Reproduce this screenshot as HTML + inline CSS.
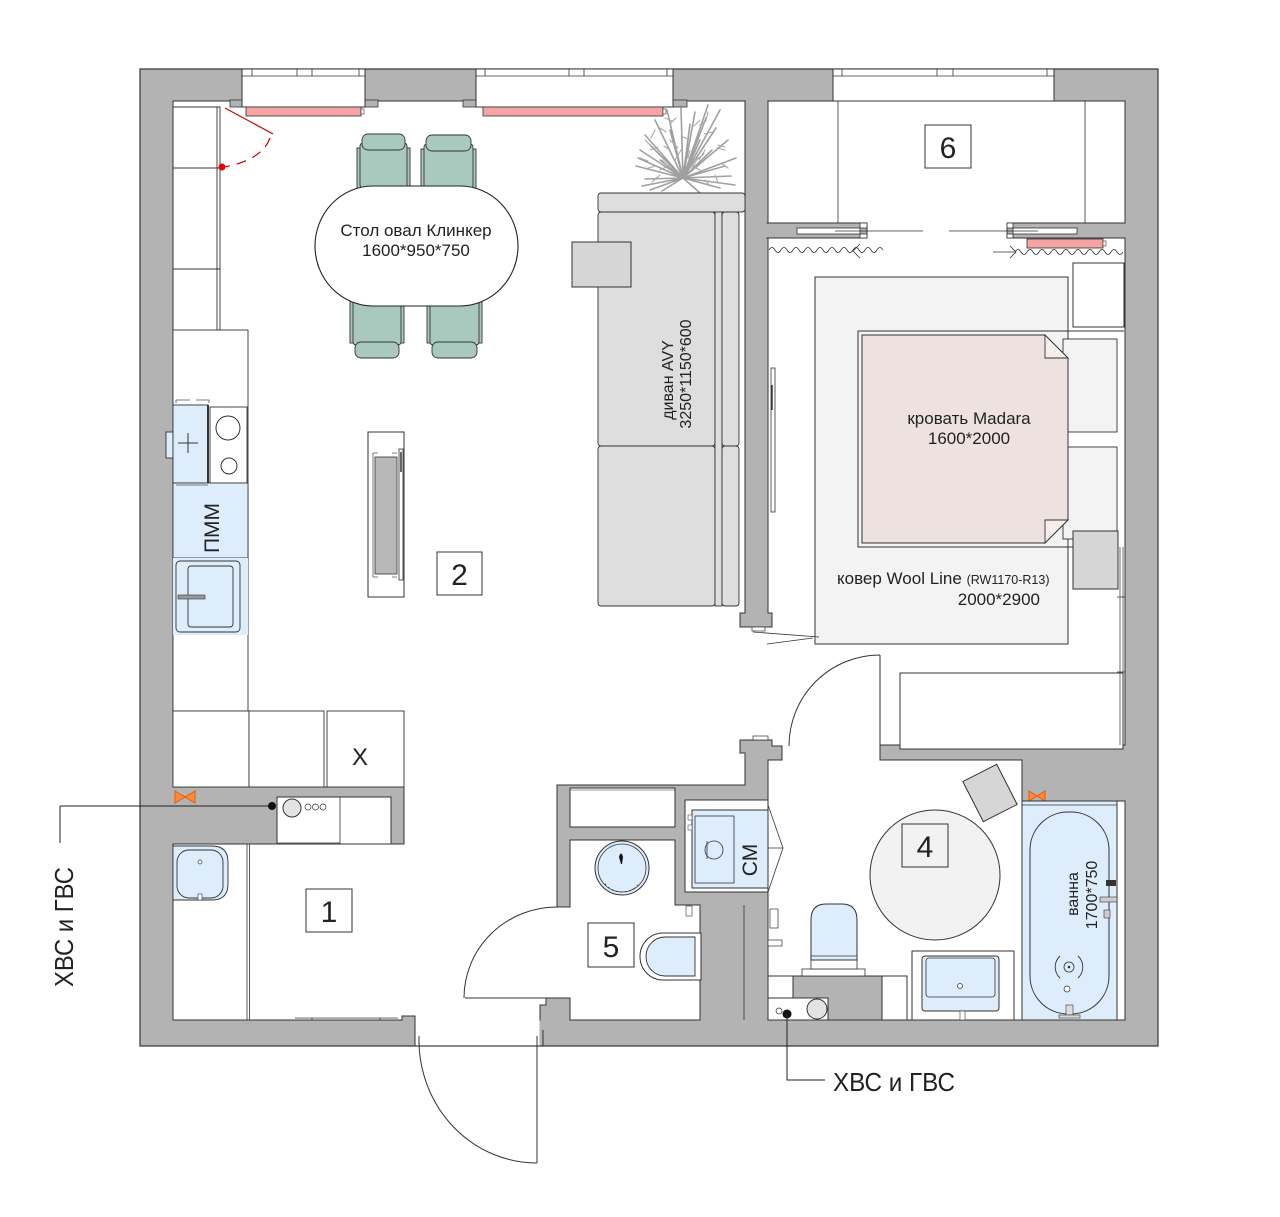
<!DOCTYPE html>
<html><head><meta charset="utf-8"><style>html,body{margin:0;padding:0;background:#fff}svg{display:block}</style></head>
<body>
<svg width="1280" height="1217" viewBox="0 0 1280 1217" xmlns="http://www.w3.org/2000/svg" font-family="Liberation Sans, sans-serif">
<rect width="1280" height="1217" fill="#fff"/>
<!-- outer walls -->
<rect x="140" y="69" width="1018" height="977" fill="#b3b3b3" stroke="#333" stroke-width="1.2"/>
<rect x="173" y="101" width="952" height="919" fill="#fff" stroke="#333" stroke-width="1"/>
<!-- window stubs -->
<g fill="#b3b3b3" stroke="#333" stroke-width="0.8">
<rect x="230" y="100" width="12" height="7"/><rect x="365" y="100" width="13" height="7"/>
<rect x="463" y="100" width="13" height="7"/><rect x="673" y="100" width="14" height="7"/>
</g>
<g fill="#fff" stroke="#333" stroke-width="1">
<rect x="242" y="69" width="123" height="38"/>
<rect x="476" y="69" width="197" height="38"/>
<rect x="833" y="69" width="221" height="32"/>
</g>
<g stroke="#333" stroke-width="0.8" fill="none">
<path d="M242,76H365M476,76H673M833,76H1054"/>
<path d="M252,69V76M297,69V76M312,69V76M359,69V76M485,69V76M569,69V76M584,69V76M667,69V76M842,69V76M937,69V76M953,69V76M1047,69V76"/>
</g>
<!-- radiators -->
<g fill="#f5a3a3" stroke="#333" stroke-width="0.8">
<rect x="246" y="107" width="115" height="9"/><rect x="483" y="107" width="180" height="9"/>
<rect x="1027" y="239" width="76" height="9"/>
</g>
<g fill="#fff" stroke="#333" stroke-width="0.6">
<rect x="361" y="109" width="3" height="5"/><rect x="663" y="109" width="3" height="5"/><rect x="1103" y="241" width="3" height="5"/>
</g>

<!-- interior walls -->
<g fill="#b3b3b3" stroke="#333" stroke-width="1">
<polygon points="745,101 768,101 768,613 772,613 772,627 740,627 740,613 745,613"/>
<rect x="767" y="223" width="100" height="15"/>
<rect x="1007" y="223" width="118" height="15"/>
<polygon points="880,745 1125,745 1125,801 1022,801 1022,760 880,760"/>
<polygon points="740,740 772,740 772,746 782,746 782,760 768,760 768,1020 700,1020 700,905 675,905 675,840 570,840 570,907 557,907 557,785 745,785 745,753 740,753"/>
<rect x="173" y="787" width="231" height="57"/>
<polygon points="540,1020 540,1005 546,1005 546,998 570,998 570,1020"/>
<polygon points="402,1020 402,1016 415,1016 415,1020"/>
</g>
<!-- patches to hide junction lines -->
<g fill="#b3b3b3">
<rect x="745.6" y="98" width="21.8" height="5"/>
<rect x="764" y="223.6" width="8" height="13.8"/>
<rect x="1121" y="223.6" width="8" height="13.8"/>
<rect x="1121" y="745.6" width="8" height="54.8"/>
<rect x="700.6" y="1016" width="66.8" height="8"/>
<rect x="169" y="787.6" width="8" height="55.8"/>
<rect x="540.6" y="1016" width="28.8" height="8"/>
<rect x="402.6" y="1016.6" width="12" height="7"/>
</g>
<path d="M744,905V1020" stroke="#333" stroke-width="0.8"/>
<!-- entry opening -->
<rect x="415.5" y="1019" width="124" height="26.4" fill="#fff"/>
<g stroke="#333" stroke-width="1" fill="none">
<path d="M415,1016V1046M419,1036V1046M543,1030V1046M415,1046H543"/>
<path d="M537,1036V1163"/>
<path d="M419,1040A118,123 0 0 0 537,1163"/>
</g>

<!-- closet sliding doors -->
<g fill="#fff" stroke="#333" stroke-width="0.8">
<rect x="797" y="228" width="63" height="6"/><rect x="860" y="223" width="7" height="5"/><rect x="860" y="234" width="7" height="4"/>
<rect x="1013" y="228" width="64" height="6"/><rect x="1007" y="223" width="6" height="5"/><rect x="1007" y="234" width="6" height="4"/>
</g>
<rect x="867.5" y="222" width="139" height="17" fill="#fff"/>
<g stroke="#333" stroke-width="0.8" fill="none">
<path d="M835,231H923M949,231H1038"/>
<path d="M838,101V223M1085,101V223"/>
</g>
<!-- curtains -->
<g stroke="#333" stroke-width="0.8" fill="none">
<path d="M769,250q3,-5 6,0q3,5 6,0q3,-5 6,0q3,5 6,0q3,-5 6,0q3,5 6,0q3,-5 6,0q3,5 6,0q3,-5 6,0q3,5 6,0q3,-5 6,0q3,5 6,0q3,-5 6,0q3,5 6,0q3,-5 6,0q3,5 6,0q3,-5 6,0q3,5 6,0q3,-5 6,0"/>
<path d="M860,244L853,251L860,258"/>
<path d="M993,252H1015M1010,246L1016,252L1010,258"/>
<path d="M1015,252q3,-5 6,0q3,5 6,0q3,-5 6,0q3,5 6,0q3,-5 6,0q3,5 6,0q3,-5 6,0q3,5 6,0q3,-5 6,0q3,5 6,0q3,-5 6,0q3,5 6,0q3,-5 6,0q3,5 6,0q3,-5 6,0q3,5 6,0q3,-5 6,0q3,5 6,0"/>
</g>
<rect x="925" y="125" width="46" height="43" fill="#fff" stroke="#333"/>
<text x="948" y="158" font-size="30" text-anchor="middle" fill="#222">6</text>

<!-- bedroom -->
<rect x="1073" y="263" width="51" height="64" fill="#fff" stroke="#333"/>
<rect x="815" y="277" width="253" height="367" fill="#f3f3f3" stroke="#333"/>
<path d="M1124,331H858V547H1073" fill="none" stroke="#333"/>
<g fill="#f3f3f3" stroke="#333" stroke-width="0.9">
<rect x="1063" y="339" width="54" height="93"/><rect x="1063" y="447" width="54" height="92"/>
</g>
<path d="M862,335H1045L1068,358V520L1045,543H862Z" fill="#ede2e0" stroke="#333"/>
<path d="M1045,335V358H1068Z M1045,543V520H1068Z" fill="#f5eeec" stroke="#333" stroke-width="0.9"/>
<rect x="1073" y="531" width="45" height="58" fill="#d6d6d6" stroke="#333"/>
<rect x="900" y="673" width="223" height="76" fill="#fff" stroke="#333"/>
<path d="M1120,547V745M1123,547V745M1117,597H1125M1117,672H1125" stroke="#333" stroke-width="0.7"/>
<rect x="771" y="368" width="4" height="144" fill="#fff" stroke="#333" stroke-width="0.8"/>
<path d="M772,385V410" stroke="#333" stroke-width="1.5"/>
<rect x="752" y="627" width="13" height="4" fill="#fff" stroke="#333" stroke-width="0.7"/>
<path d="M753,632L819,637M767,644L813,638" stroke="#333" stroke-width="0.8"/>
<text x="969" y="424" font-size="17" text-anchor="middle" fill="#222">кровать Madara</text>
<text x="969" y="444" font-size="17" text-anchor="middle" fill="#222">1600*2000</text>
<text x="837" y="584" font-size="17" fill="#222">ковер Wool Line <tspan font-size="12.5">(RW1170-R13)</tspan></text>
<text x="1040" y="605" font-size="17" text-anchor="end" fill="#222">2000*2900</text>
<!-- bedroom door -->
<g stroke="#333" stroke-width="1" fill="none">
<path d="M880,655V746"/>
<path d="M789,746A91,91 0 0 1 880,655"/>
</g>
<rect x="753" y="736" width="15" height="4" fill="#fff" stroke="#333" stroke-width="0.7"/>

<!-- living: left cabinets -->
<g fill="#fff" stroke="#333" stroke-width="0.9">
<path d="M173,107H220V330M173,168H220M173,269H220" fill="none"/>
<path d="M217,107V330" fill="none"/>
<rect x="173" y="330" width="75" height="381"/>
<rect x="173" y="711" width="76" height="76"/>
<rect x="249" y="711" width="75" height="76"/>
<rect x="327" y="711" width="77" height="76"/>
</g>
<path d="M225,108L273,134" stroke="#c00" stroke-width="1.2"/>
<path d="M270,138Q262,160 224,167" stroke="#c00" stroke-width="1.2" fill="none" stroke-dasharray="10 7"/>
<circle cx="222" cy="167" r="3.5" fill="#e00"/>
<!-- kitchen counter -->
<g stroke="#333" stroke-width="0.9">
<rect x="166" y="432" width="7" height="26" fill="#deedfc"/>
<rect x="173" y="405" width="35" height="78" fill="#deedfc"/>
<rect x="210" y="407" width="37" height="76" fill="#fff"/>
<rect x="173" y="483" width="75" height="75" fill="#deedfc"/>
<rect x="173" y="558" width="75" height="77" fill="#deedfc" stroke="none"/>
<rect x="176" y="561" width="64" height="71" rx="4" fill="#deedfc"/>
<rect x="188" y="566" width="45" height="61" rx="3" fill="#deedfc"/>
</g>
<path d="M176,400V403M176,400H190M196,400H209V403M176,485H208" stroke="#555" stroke-width="0.8" fill="none"/>
<path d="M208,405V483" stroke="#333" stroke-width="2"/>
<path d="M178,443H198M188,433V453" stroke="#333" stroke-width="1"/>
<circle cx="228" cy="428" r="12" fill="#fff" stroke="#333"/>
<circle cx="229" cy="466" r="8" fill="#fff" stroke="#333"/>
<rect x="178" y="595" width="27" height="4" fill="#999" stroke="#333" stroke-width="0.6"/>
<text transform="translate(219,528) rotate(-90)" font-size="21" text-anchor="middle" fill="#222">ПММ</text>
<text x="360" y="765" font-size="24" text-anchor="middle" fill="#222">X</text>

<!-- plant -->
<g stroke="#a0a0a0" stroke-width="1.6" fill="none" stroke-linecap="round">
<path d="M683,178L640,150M683,178L645,135M683,178L655,120M683,178L667,110M683,178L681,108M683,178L695,112M683,178L706,118M683,178L716,128M683,178L728,140M683,178L736,158M683,178L731,176M683,178L720,188M683,178L700,193M683,178L662,191M683,178L645,179M683,178L636,166M683,178L650,145M683,178L690,124M683,178L712,150M683,178L670,130M683,178L700,140M683,178L660,160M683,178L725,166M683,178L642,186M683,178L720,110M683,178L735,185M683,178L650,190M683,178L708,105M683,178L638,158"/>
</g>
<g stroke="#a8a8a8" stroke-width="1.1" fill="none" stroke-linecap="round">
<path d="M650,150l8,-3M660,128l6,4M700,125l6,-4M718,145l7,2M660,175l-6,5M705,180l5,6M690,140l-7,-3M670,150l-6,-4"/>
<path d="M645,140l6,6M655,130l-4,8M665,118l7,3M700,120l-6,6M712,132l-8,2M725,150l-8,-2M728,168l-7,-5M718,182l-3,-7M648,168l8,-2M652,182l6,-5M640,158l8,3M676,118l-6,6M708,112l-2,8M696,160l8,-6M668,166l-6,-6M690,150l-2,8"/>
<path d="M660,170l10,-5M700,170l-10,-6M675,160l6,-10M692,168l6,-10M670,140l8,8M705,150l-6,10"/>
</g>

<!-- chairs & table -->
<g fill="#a9c9bf" stroke="#333" stroke-width="0.9">
<rect x="357" y="148" width="4" height="40"/><rect x="406" y="148" width="4" height="40"/>
<rect x="360" y="143" width="47" height="45" rx="3"/><rect x="362" y="134" width="43" height="16" rx="6"/>
<rect x="421" y="149" width="4" height="40"/><rect x="472" y="149" width="4" height="40"/>
<rect x="424" y="144" width="49" height="45" rx="3"/><rect x="426" y="135" width="45" height="16" rx="6"/>
<rect x="350" y="300" width="4" height="43"/><rect x="400" y="300" width="4" height="43"/>
<rect x="353" y="300" width="48" height="45" rx="3"/><rect x="355" y="342" width="44" height="16" rx="6"/>
<rect x="427" y="300" width="4" height="43"/><rect x="478" y="300" width="4" height="43"/>
<rect x="430" y="300" width="49" height="45" rx="3"/><rect x="432" y="342" width="45" height="16" rx="6"/>
</g>
<rect x="315" y="186" width="203" height="120" rx="58" ry="60" fill="#fff" stroke="#222" stroke-width="1.1"/>
<text x="416" y="236" font-size="17" text-anchor="middle" fill="#222">Стол овал Клинкер</text>
<text x="416" y="256" font-size="17" text-anchor="middle" fill="#222">1600*950*750</text>

<!-- sofa -->
<g fill="#dedede" stroke="#333" stroke-width="0.9">
<rect x="598" y="193" width="147" height="19" rx="3"/>
<rect x="598" y="212" width="117" height="234" rx="3"/>
<rect x="598" y="446" width="117" height="160" rx="3"/>
<rect x="715" y="212" width="7" height="394"/>
<rect x="722" y="212" width="17" height="234" rx="3"/>
<rect x="722" y="446" width="17" height="160" rx="3"/>
</g>
<rect x="572" y="242" width="59" height="45" fill="#d6d6d6" stroke="#333"/>
<text transform="translate(673,380) rotate(-90)" font-size="16" text-anchor="middle" fill="#222">диван AVY</text>
<text transform="translate(691,374) rotate(-90)" font-size="16" text-anchor="middle" fill="#222">3250*1150*600</text>

<!-- TV unit -->
<rect x="368" y="432" width="36" height="165" fill="#fff" stroke="#333"/>
<path d="M373,453V577M373,453H378M373,577H378M397,453H392M397,577H392" stroke="#555" stroke-width="0.8" fill="none"/>
<rect x="375" y="457" width="22" height="117" fill="#b8b8b8" stroke="#333" stroke-width="0.8"/>
<rect x="399" y="449" width="4" height="131" fill="#fff" stroke="#333" stroke-width="0.8"/>
<path d="M401,452V472" stroke="#333" stroke-width="1.5"/>
<rect x="437" y="552" width="45" height="43" fill="#fff" stroke="#333"/>
<text x="459.5" y="585" font-size="30" text-anchor="middle" fill="#222">2</text>

<!-- kitchen wall cutout -->
<rect x="277" y="797" width="114" height="47" fill="#fff" stroke="#333"/>
<path d="M340,797V844M277,843H340" stroke="#333" stroke-width="0.8"/>
<circle cx="292" cy="808" r="9" fill="#e3e3e3" stroke="#333"/>
<circle cx="308" cy="807" r="3" fill="#fff" stroke="#333" stroke-width="0.7"/>
<circle cx="315.5" cy="807" r="3" fill="#fff" stroke="#333" stroke-width="0.7"/>
<circle cx="323" cy="807" r="3" fill="#fff" stroke="#333" stroke-width="0.7"/>
<path d="M60,806H272M60,806V843" stroke="#222" stroke-width="1"/>
<circle cx="272" cy="806" r="4" fill="#111"/>
<path d="M175,791L185,797L175,803ZM195,791L185,797L195,803Z" fill="#ff8a3a" stroke="#e85a00" stroke-width="1"/>
<text transform="translate(73,927) rotate(-90)" font-size="26" text-anchor="middle" fill="#222" textLength="120" lengthAdjust="spacingAndGlyphs">ХВС и ГВС</text>

<!-- hall -->
<path d="M247,844V1020M249.5,844V1020" stroke="#333" stroke-width="0.8"/>
<path d="M173,846H212Q228,846 228,862V884Q228,900 212,900H173Z" fill="#deedfc" stroke="#333" stroke-width="0.9"/>
<rect x="177" y="850" width="46" height="48" rx="12" fill="#deedfc" stroke="#333" stroke-width="0.9"/>
<circle cx="200" cy="862" r="2" fill="#fff" stroke="#333" stroke-width="0.7"/>
<rect x="198" y="894" width="4" height="6" fill="#fff" stroke="#333" stroke-width="0.6"/>
<rect x="306" y="889" width="46" height="43" fill="#fff" stroke="#333"/>
<text x="329" y="922" font-size="30" text-anchor="middle" fill="#222">1</text>
<path d="M295,1018H398M312,1018V1020M380,1018V1020" stroke="#333" stroke-width="0.8"/>

<!-- bathroom 5 -->
<rect x="570" y="788" width="105" height="39" fill="#fff" stroke="#333"/>
<path d="M570,790H675" stroke="#333" stroke-width="0.6"/>
<path d="M465,998H557" stroke="#333" stroke-width="1"/>
<path d="M464,998A93,91 0 0 1 557,907" stroke="#333" stroke-width="1" fill="none"/>
<circle cx="622" cy="868" r="27" fill="#deedfc" stroke="#333"/>
<circle cx="622" cy="868" r="24" fill="none" stroke="#333" stroke-width="0.8"/>
<path d="M605,884A22,22 0 0 0 639,884" stroke="#333" stroke-width="1" fill="none" stroke-dasharray="1.5 3"/>
<path d="M619,857Q621,850 623,857L622,864L621,864Z" fill="#111"/>
<path d="M701,933H663A23,23.5 0 0 0 663,980H701Z" fill="#fff" stroke="#333"/>
<path d="M695,937H665A19,19.5 0 0 0 665,976H695Z" fill="#deedfc" stroke="#333" stroke-width="0.9"/>
<rect x="686" y="906" width="6" height="10" fill="#fff" stroke="#333" stroke-width="0.6"/>
<rect x="588" y="923" width="46" height="44" fill="#fff" stroke="#333"/>
<text x="611" y="957" font-size="30" text-anchor="middle" fill="#222">5</text>
<!-- washing machine -->
<rect x="685" y="800" width="83" height="92" fill="#fff" stroke="#333"/>
<rect x="692" y="810" width="76" height="78" fill="#deedfc" stroke="#333"/>
<rect x="695" y="816" width="39" height="67" fill="#deedfc" stroke="#333" stroke-width="0.8"/>
<circle cx="714" cy="850" r="9" fill="none" stroke="#333" stroke-width="0.8"/>
<path d="M707,841V859" stroke="#333" stroke-width="0.8"/>
<path d="M768,805L783,848L768,892M768,848H783" stroke="#333" stroke-width="0.8" fill="none"/>
<rect x="688" y="815" width="4" height="5" fill="#fff" stroke="#333" stroke-width="0.5"/>
<rect x="688" y="825" width="4" height="5" fill="#fff" stroke="#333" stroke-width="0.5"/>
<text transform="translate(757,860) rotate(-90)" font-size="21" text-anchor="middle" fill="#222">СМ</text>

<!-- bathroom 4 -->
<rect x="-19" y="-22.5" width="38" height="45" transform="translate(990,793) rotate(-27)" fill="#d6d6d6" stroke="#333"/>
<circle cx="935" cy="875" r="65" fill="#f2f2f2" stroke="#333"/>
<rect x="902" y="824" width="46" height="43" fill="#f2f2f2" stroke="#333"/>
<text x="925" y="857" font-size="30" text-anchor="middle" fill="#222">4</text>
<path d="M1029,791L1037,796L1029,801ZM1045,791L1037,796L1045,801Z" fill="#ff8a3a" stroke="#e85a00" stroke-width="1"/>
<rect x="1022" y="801" width="95" height="219" fill="#deedfc" stroke="#333"/>
<path d="M1022,805H1117" stroke="#333" stroke-width="0.7"/>
<rect x="1030" y="812" width="79" height="202" rx="38" ry="38" fill="#deedfc" stroke="#333"/>
<text transform="translate(1078,894) rotate(-90)" font-size="16" text-anchor="middle" fill="#222">ванна</text>
<text transform="translate(1097,895) rotate(-90)" font-size="16" text-anchor="middle" fill="#222">1700*750</text>
<path d="M1060,956A15,15 0 0 0 1060,978M1078,956A15,15 0 0 1 1078,978" stroke="#333" stroke-width="0.9" fill="none"/>
<circle cx="1069" cy="967" r="5" fill="none" stroke="#333" stroke-width="0.8"/>
<circle cx="1069" cy="967" r="1.3" fill="#333"/>
<circle cx="1067" cy="989" r="3" fill="#fff" stroke="#333" stroke-width="0.7"/>
<rect x="1066" y="1005" width="7" height="10" fill="#ddd" stroke="#333" stroke-width="0.6"/>
<rect x="1059" y="1015" width="21" height="3" fill="#ddd" stroke="#333" stroke-width="0.6"/>
<rect x="1106" y="880" width="10" height="6" fill="#333"/>
<rect x="1100" y="897" width="17" height="5" fill="#ccc" stroke="#333" stroke-width="0.6"/>
<rect x="1104" y="910" width="6" height="8" fill="#ccc" stroke="#333" stroke-width="0.6"/>
<!-- sink -->
<rect x="912" y="951" width="102" height="69" fill="#fff" stroke="#333"/>
<rect x="922" y="956" width="77" height="55" rx="3" fill="#deedfc" stroke="#333"/>
<rect x="926" y="958" width="69" height="39" rx="3" fill="#deedfc" stroke="#333" stroke-width="0.8"/>
<circle cx="960" cy="986" r="2.5" fill="#fff" stroke="#333" stroke-width="0.7"/>
<rect x="960" y="1011" width="5" height="9" fill="#fff" stroke="#333" stroke-width="0.6"/>
<!-- toilet -->
<rect x="768" y="976" width="139" height="44" fill="#fff" stroke="#333"/>
<rect x="793" y="976" width="89" height="44" fill="#b3b3b3" stroke="#333"/>
<rect x="768" y="998" width="60" height="22" fill="#fff" stroke="#333"/>
<circle cx="779" cy="1011" r="3" fill="#fff" stroke="#333" stroke-width="0.7"/>
<circle cx="787" cy="1014" r="4.5" fill="#111"/>
<circle cx="817" cy="1009" r="10" fill="#e3e3e3" stroke="#333"/>
<rect x="802" y="969" width="63" height="7" fill="#fff" stroke="#333" stroke-width="0.8"/>
<rect x="811" y="957" width="46" height="12" fill="#fff" stroke="#333" stroke-width="0.8"/>
<path d="M811,960V920Q811,904 826,904H842Q857,904 857,920V960Z" fill="#deedfc" stroke="#333"/>
<path d="M811,956H857" stroke="#333" stroke-width="0.8"/>
<rect x="770" y="909" width="8" height="19" fill="#fff" stroke="#333" stroke-width="0.7"/>
<rect x="768" y="940" width="14" height="6" fill="#fff" stroke="#333" stroke-width="0.7"/>
<path d="M787,1014V1080H825" stroke="#222" stroke-width="1" fill="none"/>
<text x="833" y="1091" font-size="26" fill="#222" textLength="122" lengthAdjust="spacingAndGlyphs">ХВС и ГВС</text>
</svg>
</body></html>
